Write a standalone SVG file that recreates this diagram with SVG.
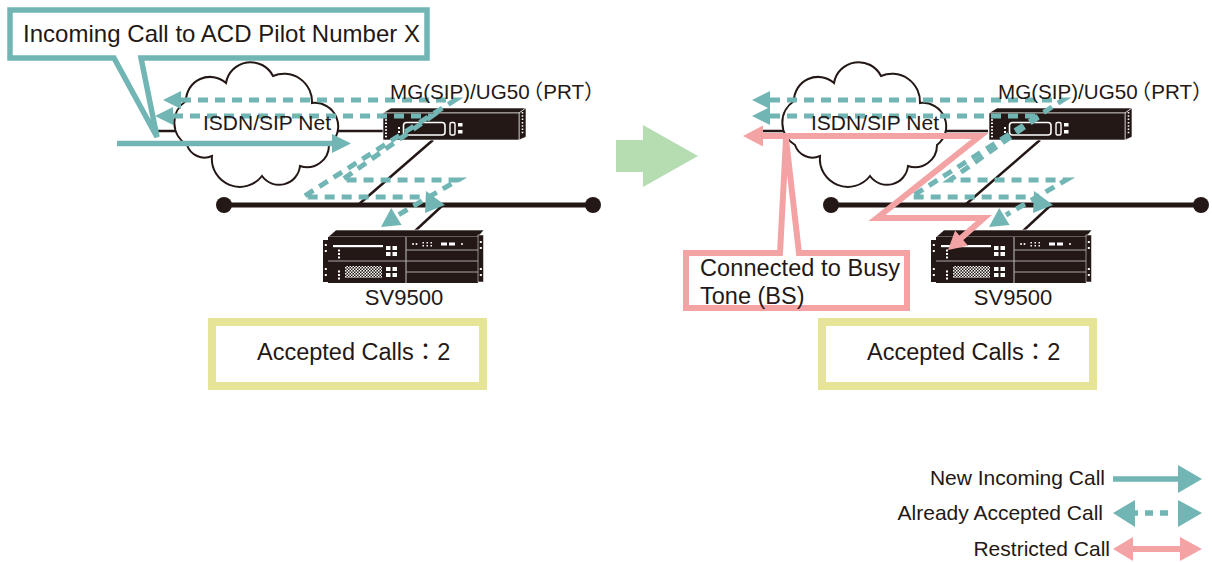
<svg xmlns="http://www.w3.org/2000/svg" xmlns:xlink="http://www.w3.org/1999/xlink" width="1212" height="562" viewBox="0 0 1212 562">
  <style>
    text { font-family: "Liberation Sans", "Noto Sans CJK JP", Arial, sans-serif; fill: #231815; }
    .lbl { font-size: 23.5px; }
    .net { font-size: 21px; }
    .dev { font-size: 20.6px; }
    .sv { font-size: 22px; }
    .leg { font-size: 21px; }
    .cloud { fill: #fff; stroke: #231815; stroke-width: 2; }
    .wire { stroke: #231815; stroke-width: 2.5; fill: none; }
    .bus { stroke: #231815; stroke-width: 5; }
    .new { stroke: #71b6b4; stroke-width: 5.5; fill: none; }
    .acc { stroke: #71b6b4; stroke-width: 5; fill: none; stroke-dasharray: 10 7; }
    .teal { fill: #71b6b4; }
    .rst { stroke: #f4a3a5; stroke-width: 6; fill: none; stroke-linejoin: miter; }
    .pink { fill: #f4a3a5; }
    .callout-t { fill: #fff; stroke: #71b6b4; stroke-width: 5.5; }
    .callout-p { fill: #fff; stroke: #f4a3a5; stroke-width: 6; }
    .count { fill: #fff; stroke: #e6e497; stroke-width: 8; }
    .hw { fill: #231815; }
    .wh { fill: #fff; }
    .gl { stroke: #a8a8a8; stroke-width: 1.2; }
  </style>
  <defs>
    <pattern id="mesh" width="3" height="3" patternUnits="userSpaceOnUse">
      <rect width="3" height="3" fill="#231815"/>
      <rect width="1.5" height="1.5" fill="#fff"/>
      <rect x="1.5" y="1.5" width="1.5" height="1.5" fill="#fff"/>
    </pattern>
    <!-- gateway unit (MG/UG50) -->
    <g id="mg-unit">
      <polygon class="hw" points="383,113 391,108 526,108 519,113" stroke="#fff" stroke-width="0.6"/>
      <polygon class="hw" points="519,113 526,108 526,137 519,140" stroke="#fff" stroke-width="0.6"/>
      <rect class="hw" x="383" y="113" width="136" height="27" stroke="#fff" stroke-width="0.6"/>
      <line x1="386" y1="116" x2="386" y2="138" stroke="#fff" stroke-width="2" stroke-dasharray="1.5 1.8"/>
      <line x1="522.5" y1="112" x2="522.5" y2="135" stroke="#fff" stroke-width="1.6" stroke-dasharray="1.5 1.8"/>
      <rect x="403.5" y="122.5" width="41.5" height="12.5" rx="3" fill="none" stroke="#fff" stroke-width="1.6"/>
      <rect x="450" y="122.5" width="5" height="12.5" rx="1.5" fill="none" stroke="#fff" stroke-width="1.4"/>
      <rect class="wh" x="458" y="123" width="4.5" height="3.5"/>
      <rect class="wh" x="458" y="130" width="4.5" height="3.5"/>
      <rect class="wh" x="398" y="127" width="2" height="2"/>
      <rect class="wh" x="398" y="131" width="2" height="2"/>
    </g>
    <!-- call server unit (SV9500) -->
    <g id="sv-unit">
      <rect class="hw" x="323" y="240" width="5.5" height="42"/>
      <rect class="wh" x="324.8" y="244" width="2" height="2"/>
      <rect class="wh" x="324.8" y="250" width="2" height="2"/>
      <rect class="wh" x="324.8" y="268" width="2" height="2"/>
      <rect class="wh" x="324.8" y="274" width="2" height="2"/>
      <polygon class="hw" points="328,237 336,230 484,230 478,237" stroke="#fff" stroke-width="0.6"/>
      <rect class="hw" x="328" y="237" width="150" height="46"/>
      <rect class="hw" x="478" y="235" width="5.5" height="47" stroke="#fff" stroke-width="0.5"/>
      <rect class="wh" x="479.8" y="241" width="2" height="2"/>
      <rect class="wh" x="479.8" y="247" width="2" height="2"/>
      <rect class="wh" x="479.8" y="268" width="2" height="2"/>
      <rect class="wh" x="479.8" y="274" width="2" height="2"/>
      <line class="gl" x1="406" y1="237" x2="406" y2="283"/>
      <line class="gl" x1="328" y1="261" x2="478" y2="261"/>
      <line class="gl" x1="406" y1="250" x2="478" y2="250"/>
      <line class="gl" x1="406" y1="272" x2="478" y2="272"/>
      <rect class="wh" x="333" y="245" width="50" height="2.2"/>
      <rect class="wh" x="386" y="246" width="4.5" height="4"/>
      <rect class="wh" x="392.5" y="246" width="4.5" height="4"/>
      <rect class="wh" x="386" y="252" width="4.5" height="4"/>
      <rect class="wh" x="392.5" y="252" width="4.5" height="4"/>
      <rect class="wh" x="338" y="249.5" width="2" height="2"/>
      <rect class="wh" x="338" y="253" width="2" height="2"/>
      <rect class="wh" x="338" y="256.5" width="2" height="2"/>
      <rect class="wh" x="338" y="270.5" width="2" height="2"/>
      <rect class="wh" x="338" y="274" width="2" height="2"/>
      <rect class="wh" x="338" y="277.5" width="2" height="2"/>
      <rect x="345" y="266" width="37" height="12" fill="url(#mesh)"/>
      <rect class="wh" x="386" y="267" width="4.5" height="4"/>
      <rect class="wh" x="392.5" y="267" width="4.5" height="4"/>
      <rect class="wh" x="386" y="273" width="4.5" height="4"/>
      <rect class="wh" x="392.5" y="273" width="4.5" height="4"/>
      <circle class="wh" cx="413" cy="244" r="1"/>
      <circle class="wh" cx="416.5" cy="244" r="1"/>
      <rect class="wh" x="422.5" y="242" width="1.5" height="1.5"/>
      <rect class="wh" x="422.5" y="245" width="1.5" height="1.5"/>
      <rect class="wh" x="426.5" y="242" width="1.5" height="1.5"/>
      <rect class="wh" x="426.5" y="245" width="1.5" height="1.5"/>
      <rect class="wh" x="430.5" y="242" width="1.5" height="1.5"/>
      <rect class="wh" x="430.5" y="245" width="1.5" height="1.5"/>
      <rect class="wh" x="441" y="242.5" width="6" height="3"/>
      <rect class="wh" x="449" y="242.5" width="6" height="3"/>
      <circle class="wh" cx="462" cy="244" r="1"/>
    </g>
    <path id="cloud-shape" d="M 187,145 A 26 26 0 0 1 186,101 A 24 24 0 0 1 226,83 A 25 25 0 0 1 273,76 A 28 28 0 0 1 312,103 A 23.5 23.5 0 0 1 329,145 A 22 22 0 0 1 300,166 A 21 21 0 0 1 262,176 A 28 28 0 0 1 212,156 A 18.5 18.5 0 0 1 187,145 Z"/>
  </defs>

  <!-- ===== Left panel: before restriction ===== -->
  <g id="left-lines">
    <line class="wire" x1="157" y1="131" x2="383" y2="131"/>
    <line class="bus" x1="223" y1="205" x2="593" y2="205"/>
    <circle class="hw" cx="224" cy="205" r="8"/>
    <circle class="hw" cx="593" cy="205" r="8"/>
    <line class="wire" x1="433" y1="140" x2="358" y2="205"/>
    <line class="wire" x1="443" y1="205" x2="415" y2="231"/>
  </g>
  <g id="cloud-left"><use href="#cloud-shape" class="cloud"/></g>
  <g id="mg-left"><use href="#mg-unit"/></g>
  <g id="sv-left"><use href="#sv-unit"/></g>

  <g id="left-connectors">
    <line class="new" x1="117" y1="143.5" x2="334" y2="143.5"/>
    <polygon class="teal" points="332,134 351,143.5 332,153"/>
    <path class="acc" d="M 181,100 H 455 L 303,197 H 424"/>
    <polygon class="teal" points="163,100 181,91 181,109"/>
    <polygon class="teal" points="426,191 425,213 445,205"/>
    <path class="acc" d="M 173,116 H 432 L 342,180 H 458 L 398,215"/>
    <polygon class="teal" points="155,116 173,107 173,125"/>
    <polygon class="teal" points="381,227 391.2,208.1 401.6,225.1"/>
  </g>

  <g id="label-left">
    <text class="net" x="203" y="130">ISDN/SIP Net</text>
    <text class="dev" x="390" y="99">MG(SIP)/UG50<tspan dx="-7">（PRT）</tspan></text>
    <text class="sv" x="404" y="305" text-anchor="middle">SV9500</text>
  </g>

  <g id="callout-incoming">
    <path class="callout-t" d="M 10,10 H 427 V 58 H 141 L 157,137 L 114,58 H 10 Z"/>
    <text x="23" y="42" font-size="24" textLength="397" lengthAdjust="spacing">Incoming Call to ACD Pilot Number X</text>
  </g>

  <g id="count-left">
    <rect class="count" x="212" y="322" width="271" height="64"/>
    <text class="lbl" x="257" y="360">Accepted Calls：2</text>
  </g>

  <!-- transition arrow -->
  <g id="next-arrow">
    <polygon fill="#b6ddb2" points="616,140 643,140 643,125 698,156 643,187 643,172 616,172"/>
  </g>

  <!-- ===== Right panel: restriction applied ===== -->
  <g id="right-lines">
    <line class="wire" x1="762" y1="131" x2="988" y2="131"/>
    <line class="bus" x1="830" y1="205" x2="1200" y2="205"/>
    <circle class="hw" cx="831" cy="205" r="8"/>
    <circle class="hw" cx="1201" cy="205" r="8"/>
    <line class="wire" x1="1040" y1="140" x2="965" y2="205"/>
    <line class="wire" x1="1051" y1="205" x2="1023" y2="231"/>
  </g>
  <g id="cloud-right"><use href="#cloud-shape" class="cloud" x="608"/></g>
  <g id="mg-right"><use href="#mg-unit" x="606"/></g>
  <g id="sv-right"><use href="#sv-unit" x="608"/></g>

  <g id="right-connectors">
    <path class="acc" d="M 770,100 H 1063 L 911,197 H 1032"/>
    <polygon class="teal" points="752,100 770,91 770,109"/>
    <polygon class="teal" points="1034,191 1033,213 1053,205"/>
    <path class="acc" d="M 770,116 H 1040 L 950,180 H 1066 L 1006,215"/>
    <polygon class="teal" points="752,116 770,107 770,125"/>
    <polygon class="teal" points="989,227 999.2,208.1 1009.6,225.1"/>
    <path class="rst" d="M 761,136 H 980 L 877,218 H 984 L 960,239"/>
    <polygon class="pink" points="743,136 763,125.5 763,146.5"/>
    <polygon class="pink" points="948,250 955.1,230.6 968.1,245.8"/>
  </g>

  <g id="label-right">
    <text class="net" x="811" y="130">ISDN/SIP Net</text>
    <text class="dev" x="998" y="99">MG(SIP)/UG50<tspan dx="-7">（PRT）</tspan></text>
    <text class="sv" x="1013" y="305" text-anchor="middle">SV9500</text>
  </g>

  <g id="callout-busy">
    <path class="callout-p" d="M 686,253 H 780 L 786,139 L 799,253 H 907 V 308 H 686 Z"/>
    <text class="lbl" x="700" y="276" textLength="200" lengthAdjust="spacing">Connected to Busy</text>
    <text class="lbl" x="700" y="304">Tone (BS)</text>
  </g>

  <g id="count-right">
    <rect class="count" x="822" y="322" width="271" height="64"/>
    <text class="lbl" x="867" y="360">Accepted Calls：2</text>
  </g>

  <!-- ===== Legend ===== -->
  <g id="legend">
    <text class="leg" x="1105" y="485" text-anchor="end">New Incoming Call</text>
    <line class="new" x1="1113" y1="479" x2="1180" y2="479"/>
    <polygon class="teal" points="1178,465 1202,479 1178,493"/>

    <text class="leg" x="1103" y="520" text-anchor="end">Already Accepted Call</text>
    <polygon class="teal" points="1113,513 1135,500 1135,527"/>
    <line x1="1133" y1="513" x2="1178" y2="513" stroke="#71b6b4" stroke-width="5.5" stroke-dasharray="5 7 8 7 8 10"/>
    <polygon class="teal" points="1178,500 1202,513 1178,527"/>

    <text class="leg" x="1110" y="556" text-anchor="end">Restricted Call</text>
    <polygon class="pink" points="1113,549 1133,537 1133,561"/>
    <line class="rst" x1="1131" y1="549" x2="1182" y2="549"/>
    <polygon class="pink" points="1180,537 1202,549 1180,561"/>
  </g>
</svg>
